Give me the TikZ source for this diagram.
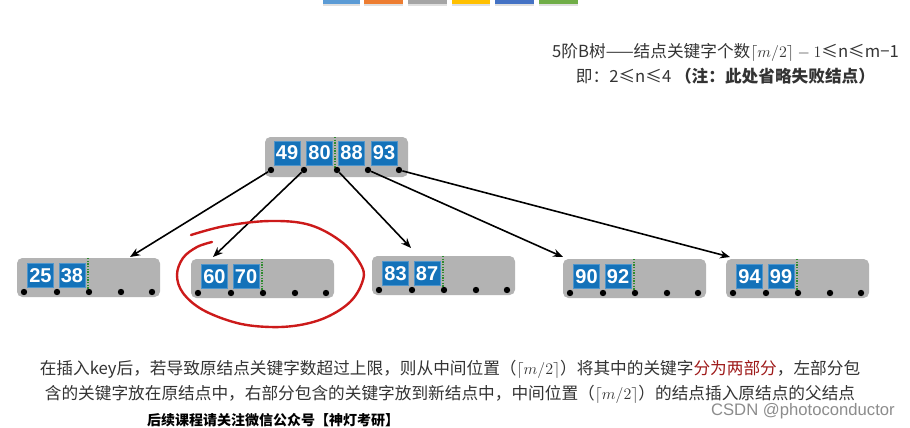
\documentclass[tikz,border=0pt]{standalone}
\usepackage{fontspec}
\setmainfont{Noto Sans CJK SC}
\newfontfamily\keyfont{Liberation Sans}
\usetikzlibrary{arrows.meta}
\definecolor{nodegray}{HTML}{B3B3B3}
\definecolor{keyblue}{HTML}{1472B9}
\definecolor{dotgreen}{HTML}{2E8B2E}
\definecolor{txtgray}{HTML}{333333}
\definecolor{darkred}{HTML}{9E1A1A}
\definecolor{loopred}{HTML}{CC1A1A}
\definecolor{barA}{HTML}{5B9BD5}
\definecolor{barB}{HTML}{ED7D31}
\definecolor{barC}{HTML}{A5A5A5}
\definecolor{barD}{HTML}{FFC000}
\definecolor{barE}{HTML}{4472C4}
\definecolor{barF}{HTML}{70AD47}
\tikzset{
  bbox/.style={fill=nodegray, rounded corners=4pt},
  keybox/.style={rectangle, fill=keyblue, draw=keyblue!75!white, line width=0.5pt,
    minimum width=19.5pt, minimum height=18pt, inner sep=0pt, text=white,
    font=\keyfont\bfseries\fontsize{15}{15}\selectfont},
  ptr/.style={circle, fill=black, minimum size=4.8pt, inner sep=0pt},
  split/.style={dotgreen, line width=1.1pt, dash pattern=on 1pt off 1pt},
  arr/.style={black, line width=1.2pt, -{Stealth[length=7.5pt,width=6pt]}},
  txt/.style={text=txtgray, inner sep=0pt, font=\fontsize{12.5}{14}\selectfont},
  loop/.style={loopred, line width=1.8pt, line cap=round, line join=round}
}
\begin{document}
\begin{tikzpicture}[x=0.75pt,y=-0.75pt]
\useasboundingbox (0,0) rectangle (910,428);
% top colour bars
\foreach \c/\a/\b in {barA/323/360, barB/364/403, barC/408/447, barD/452/490, barE/495/534, barF/539/578}{
  \fill[black!12] (\a,4) rectangle (\b,6);
  \fill[\c] (\a,0) rectangle (\b,4.5);
}
% header text
\node[txt] (h1) at (725.5,52) {5阶B树——结点关键字个数$\lceil m/2\rceil - 1$≤n≤m−1};
\node[txt] (h2) at (725.5,76) {即：2≤n≤4 \textbf{（注：此处省略失败结点）}};
% root
\fill[bbox] (265,137) rectangle (408,177);
\node[keybox] (k49) at (287,153) {49};
\node[keybox] (k80) at (319.5,153) {80};
\node[keybox] (k88) at (351.5,153) {88};
\node[keybox] (k93) at (384,153) {93};
\draw[split] (335,137) -- (335,169);
\foreach \i/\x in {1/271, 2/304, 3/337, 4/368, 5/399}{
  \node[ptr] (r-d\i) at (\x,170) {};
}
% leaves
\foreach \n/\L/\T/\a/\b in {l1/17/258/25/38, l2/191/259/60/70, l3/372/256/83/87, l4/563/259/90/92, l5/726/259/94/99}{
  \fill[bbox] (\L,\T) rectangle ({\L+143},{\T+39});
  \node[keybox] (\n-ka) at ({\L+23.5},{\T+17.5}) {\a};
  \node[keybox] (\n-kb) at ({\L+55},{\T+17.5}) {\b};
  \draw[split] ({\L+71},\T) -- ({\L+71},{\T+33});
  \foreach \i/\dx in {1/7, 2/40, 3/72, 4/104, 5/135}{
    \node[ptr] (\n-d\i) at ({\L+\dx},{\T+34}) {};
  }
}
% arrow targets
\coordinate (t1) at (130,257);
\coordinate (t2) at (213,257);
\coordinate (t3) at (411,248);
\coordinate (t4) at (563,257);
\coordinate (t5) at (730,257);
\draw[arr] (r-d1) -- (t1);
\draw[arr] (r-d2) -- (t2);
\draw[arr] (r-d3) -- (t3);
\draw[arr] (r-d4) -- (t4);
\draw[arr] (r-d5) -- (t5);
% hand-drawn red loop
\draw[loop] plot[smooth, tension=0.6] coordinates {(191,235) (225,226) (270,221) (310,225) (343,243) (362,267) (362,283) (350,302) (327,317) (300,325) (270,327) (237,323) (203,310) (183,293) (177,275) (183,258) (197,247) (212,242)};
% bottom text
\node[txt] (b1) at (450,369) {在插入key后，若导致原结点关键字数超过上限，则从中间位置（$\lceil m/2\rceil$）将其中的关键字\textcolor{darkred}{分为两部分}，左部分包};
\node[txt] (b2) at (450,394) {含的关键字放在原结点中，右部分包含的关键字放到新结点中，中间位置（$\lceil m/2\rceil$）的结点插入原结点的父结点};
\node[txt, font=\fontsize{10.5}{12}\selectfont\bfseries, text=black] (b3) at (273,420) {后续课程请关注微信公众号【神灯考研】};
\node[inner sep=0pt, anchor=east, text=black!45, font=\keyfont\fontsize{12.5}{14}\selectfont] (wm) at (895,411) {CSDN @photoconductor};
\end{tikzpicture}
\end{document}
